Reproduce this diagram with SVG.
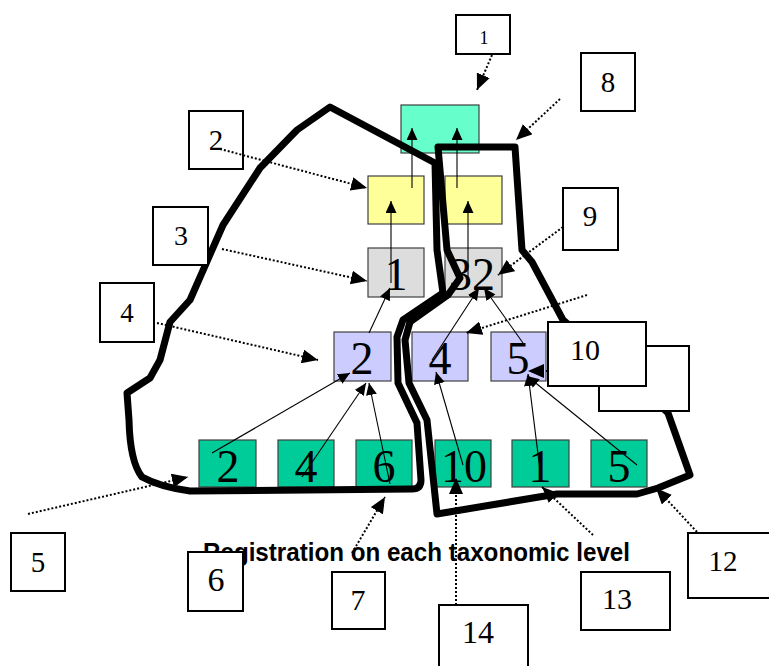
<svg xmlns="http://www.w3.org/2000/svg" width="769" height="666" viewBox="0 0 769 666">
<style>
.nd{stroke:#404040;stroke-width:1.2}
.nt{font-family:"Liberation Serif","Times New Roman",serif;font-size:46px;text-anchor:middle;fill:#000}
.co rect{fill:#fff;stroke:#000;stroke-width:2}
.ct{font-family:"Liberation Serif","Times New Roman",serif;font-size:29px;text-anchor:middle;fill:#000}
.rg{fill:none;stroke:#000;stroke-width:7;stroke-linejoin:round;stroke-linecap:round}
.ar{stroke:#000;stroke-width:1.1;fill:none;marker-end:url(#ah)}
.da{stroke:#000;stroke-width:2;stroke-dasharray:2 2;fill:none;marker-end:url(#dh)}
.tt{font-family:"Liberation Sans",Arial,sans-serif;font-weight:bold;font-size:25px;fill:#000}
</style>
<defs>
<marker id="ah" markerUnits="userSpaceOnUse" markerWidth="13" markerHeight="12" refX="12" refY="5.5" orient="auto"><path d="M0,0 L12,5.5 L0,11z" fill="#000"/></marker>
<marker id="dh" markerUnits="userSpaceOnUse" markerWidth="17" markerHeight="14" refX="16" refY="7" orient="auto"><path d="M0,0 L16,7 L0,14z" fill="#000"/></marker>
</defs>
<rect width="769" height="666" fill="#fff"/>

<g id="n-teal"><rect class="nd" x="401" y="105" width="78" height="48" fill="#66FFCC"/></g>
<g id="n-yellow-l"><rect class="nd" x="368" y="176" width="56" height="48" fill="#FFFF99"/></g>
<g id="n-yellow-r"><rect class="nd" x="445" y="176" width="57" height="48" fill="#FFFF99"/></g>
<g id="n-gray-1"><rect class="nd" x="368" y="248" width="56" height="49" fill="#DDDDDD"/><text class="nt" x="396" y="290">1</text></g>
<g id="n-gray-32"><rect class="nd" x="445" y="248" width="57" height="49" fill="#DDDDDD"/><text class="nt" x="472" y="290">32</text></g>
<g id="n-blue-2"><rect class="nd" x="334" y="332" width="57" height="49" fill="#CCCCFF"/><text class="nt" x="362" y="374">2</text></g>
<g id="n-blue-4"><rect class="nd" x="412" y="332" width="56" height="49" fill="#CCCCFF"/><text class="nt" x="440" y="374">4</text></g>
<g id="n-blue-5"><rect class="nd" x="491" y="332" width="55" height="49" fill="#CCCCFF"/><text class="nt" x="518" y="374">5</text></g>
<g id="n-green-2"><rect class="nd" x="199" y="440" width="57" height="47" fill="#00CC99"/><text class="nt" x="228" y="482">2</text></g>
<g id="n-green-4"><rect class="nd" x="278" y="440" width="56" height="47" fill="#00CC99"/><text class="nt" x="306" y="482">4</text></g>
<g id="n-green-6"><rect class="nd" x="356" y="440" width="56" height="47" fill="#00CC99"/><text class="nt" x="384" y="482">6</text></g>
<g id="n-green-10"><rect class="nd" x="435" y="440" width="56" height="47" fill="#00CC99"/><text class="nt" x="464" y="482">10</text></g>
<g id="n-green-1"><rect class="nd" x="512" y="440" width="57" height="47" fill="#00CC99"/><text class="nt" x="540" y="482">1</text></g>
<g id="n-green-5"><rect class="nd" x="591" y="440" width="56" height="47" fill="#00CC99"/><text class="nt" x="619" y="482">5</text></g>

<g id="regions">
<path class="rg" d="M330,107 L435,163 L437,250 L443,293 L403,320 L397,337 L398,383 L417,423 L421,480 Q421,489 412,489 L190,491 Q160,487 142,477 Q130,462 129,420 L127,393 L150,378 L160,360 L170,322 L190,300 L223,225 L260,168 L297,130 Z"/>
<path class="rg" d="M438,147 L515,147 L522,250 L532,262 L563,320 L640,387 L668,413 L690,475 L658,488 L637,494 L557,494 L437,514 L427,420 L409,383 L405,340 L410,322 L448,295 L460,278 L447,250 Z"/>
</g>

<g id="connectors">
<line class="ar" x1="412" y1="188" x2="412" y2="128"/>
<line class="ar" x1="457" y1="188" x2="457" y2="128"/>
<line class="ar" x1="391" y1="283" x2="391" y2="201"/>
<line class="ar" x1="468" y1="283" x2="468" y2="201"/>
<line class="ar" x1="369" y1="333" x2="390" y2="288"/>
<line class="ar" x1="432" y1="360" x2="479" y2="288"/>
<line class="ar" x1="523" y1="343" x2="484" y2="288"/>
<line class="ar" x1="212" y1="453" x2="350" y2="373"/>
<line class="ar" x1="302" y1="477" x2="366" y2="383"/>
<line class="ar" x1="390" y1="484" x2="369" y2="383"/>
<line class="ar" x1="463" y1="465" x2="436" y2="372"/>
<line class="ar" x1="541" y1="478" x2="528" y2="374"/>
<line class="ar" x1="637" y1="465" x2="527" y2="376"/>
</g>

<text class="tt" x="203" y="561" textLength="427" lengthAdjust="spacingAndGlyphs">Registration on each taxonomic level</text>

<g id="c1" class="co"><rect x="456" y="15" width="54" height="39"/><text class="ct" x="484" y="44" style="font-size:18px">1</text></g>
<g id="c8" class="co"><rect x="581" y="53" width="54" height="58"/><text class="ct" x="608" y="92">8</text></g>
<g id="c2" class="co"><rect x="189" y="111" width="54" height="58"/><text class="ct" x="216" y="150">2</text></g>
<g id="c3" class="co"><rect x="153" y="207" width="55" height="58"/><text class="ct" x="181" y="245" style="font-size:28px">3</text></g>
<g id="c4" class="co"><rect x="100" y="283" width="54" height="59"/><text class="ct" x="127" y="322" style="font-size:27px">4</text></g>
<g id="c9" class="co"><rect x="563" y="188" width="55" height="62"/><text class="ct" x="590" y="226">9</text></g>
<g id="c10b" class="co"><rect x="599" y="346" width="90" height="65"/></g>
<g id="c10" class="co"><rect x="548" y="322" width="98" height="64"/><text class="ct" x="585" y="360" style="font-size:30px">10</text></g>
<g id="c5" class="co"><rect x="11" y="533" width="54" height="58"/><text class="ct" x="38" y="572">5</text></g>
<g id="c6" class="co"><rect x="188" y="552" width="55" height="59"/><text class="ct" x="216" y="591" style="font-size:34px">6</text></g>
<g id="c7" class="co"><rect x="332" y="572" width="53" height="57"/><text class="ct" x="358" y="610" style="font-size:30px">7</text></g>
<g id="c14" class="co"><rect x="439" y="605" width="89" height="70"/><text class="ct" x="478" y="643" style="font-size:32px">14</text></g>
<g id="c13" class="co"><rect x="581" y="572" width="89" height="58"/><text class="ct" x="617" y="609" style="font-size:30px">13</text></g>
<g id="c12" class="co"><rect x="688" y="533" width="90" height="65"/><text class="ct" x="723" y="571">12</text></g>

<g id="callout-connectors">
<line class="da" x1="492" y1="55" x2="477" y2="90"/>
<line class="da" x1="560" y1="99" x2="516" y2="140"/>
<line class="da" x1="220" y1="149" x2="367" y2="188"/>
<line class="da" x1="222" y1="249" x2="367" y2="281"/>
<line class="da" x1="157" y1="323" x2="318" y2="360"/>
<line class="da" x1="563" y1="227" x2="498" y2="275"/>
<line class="da" x1="587" y1="295" x2="466" y2="333"/>
<line class="da" x1="548" y1="371" x2="528" y2="371"/>
<line class="da" x1="28" y1="514" x2="188" y2="477"/>
<line class="da" x1="352" y1="553" x2="385" y2="497"/>
<line class="da" x1="456" y1="605" x2="456" y2="478"/>
<line class="da" x1="593" y1="535" x2="542" y2="487"/>
<line class="da" x1="697" y1="532" x2="656" y2="488"/>
</g>
</svg>
